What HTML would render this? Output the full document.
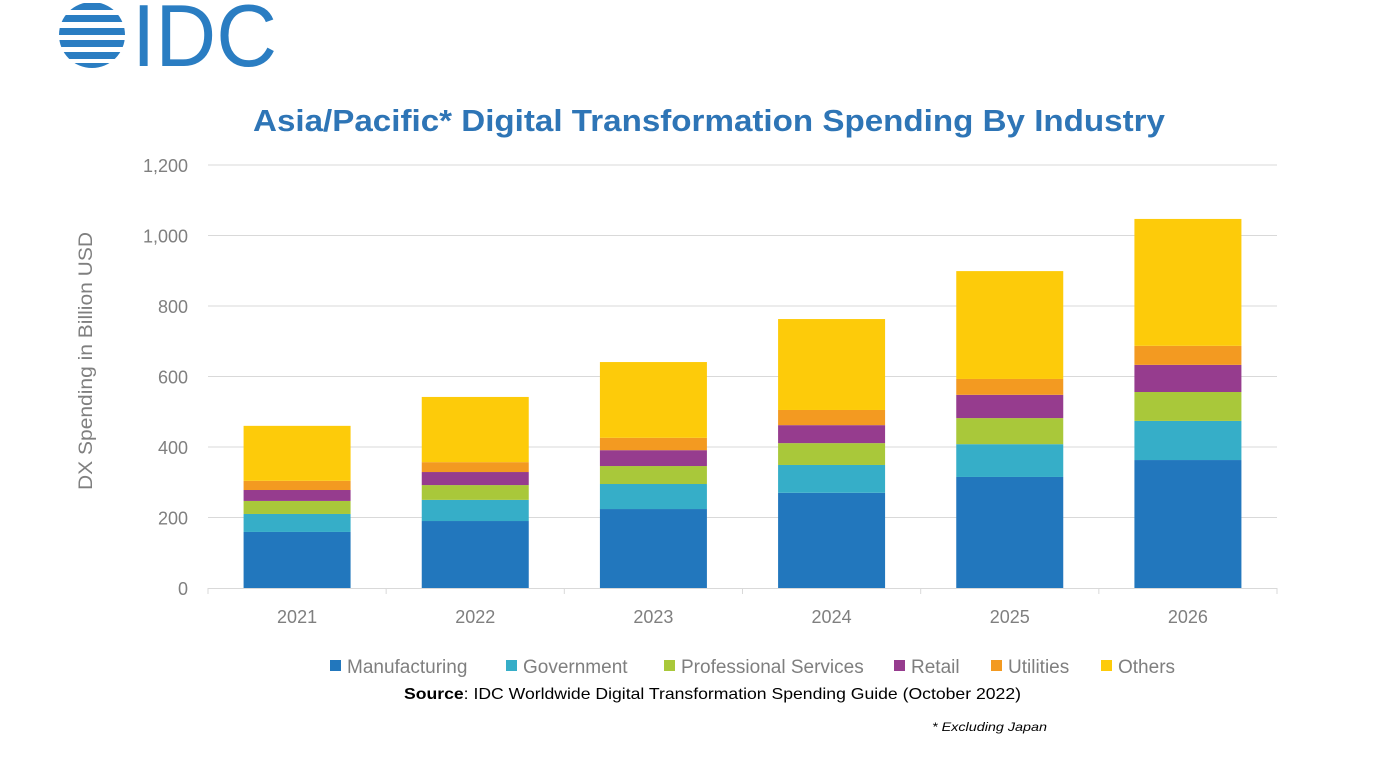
<!DOCTYPE html>
<html><head><meta charset="utf-8"><style>
html,body{margin:0;padding:0;background:#fff;width:1380px;height:776px;overflow:hidden;font-family:"Liberation Sans",sans-serif;}
</style></head><body>
<svg width="1380" height="776" xmlns="http://www.w3.org/2000/svg" id="chart">
<g>
  <defs><clipPath id="lc"><circle cx="92" cy="35" r="33"/></clipPath></defs>
  <g clip-path="url(#lc)" fill="#2A7DC2">
    <rect x="55" y="3" width="80" height="7"/>
    <rect x="55" y="15" width="80" height="7"/>
    <rect x="55" y="28" width="80" height="7"/>
    <rect x="55" y="40" width="80" height="7"/>
    <rect x="55" y="52" width="80" height="7"/>
    <rect x="55" y="63" width="80" height="7"/>
  </g>
  <text x="132" y="66" font-size="88" fill="#2A7DC2" font-family="Liberation Sans, sans-serif" textLength="145" lengthAdjust="spacingAndGlyphs">IDC</text>
</g>
<text x="253" y="131" font-size="31" font-weight="bold" fill="#2E75B6" textLength="912" lengthAdjust="spacingAndGlyphs">Asia/Pacific* Digital Transformation Spending By Industry</text>
<text transform="translate(92,361) rotate(-90)" text-anchor="middle" font-size="19" fill="#7f7f7f" textLength="258" lengthAdjust="spacingAndGlyphs">DX Spending in Billion USD</text>
<g id="grid"></g><g id="bars"></g><g id="axes"></g><g id="legend"></g>
<text x="404" y="699" font-size="16" fill="#000" textLength="617" lengthAdjust="spacingAndGlyphs"><tspan font-weight="bold">Source</tspan>: IDC Worldwide Digital Transformation Spending Guide (October 2022)</text>
<text x="932" y="731" font-size="12" font-style="italic" fill="#000" textLength="115" lengthAdjust="spacingAndGlyphs">* Excluding Japan</text>
</svg>
<script>
const years=["2021","2022","2023","2024","2025","2026"];
const manufacturing=[159,190,224,270,315,363];
const government=[51,60,71,79,93,111];
const professional=[37,42,51,62,74,82];
const retail=[31,37,45,51,66,77];
const utilities=[26,28,35,43,45,54];
const others=[156,185,215,258,306,360];
const yTicks=[0,200,400,600,800,1000,1200];
const yTickLabels=["0","200","400","600","800","1,000","1,200"];
const seriesNames=["Manufacturing","Government","Professional Services","Retail","Utilities","Others"];
const NS="http://www.w3.org/2000/svg";
const colors=["#2277BD","#36AEC8","#A9C83A","#963C8E","#F39A21","#FDCB0A"];
const series=[manufacturing,government,professional,retail,utilities,others];
const x0=208,x1=1277,y0=588,yTop=165,yMax=1200;
const band=(x1-x0)/years.length,bw=107;
const Y=v=>y0-(v/yMax)*(y0-yTop);
const X=i=>x0+band*i+band/2;
function mk(t,a,p){const e=document.createElementNS(NS,t);for(const k in a)e.setAttribute(k,a[k]);p.appendChild(e);return e;}
const g=document.getElementById('grid'),b=document.getElementById('bars'),ax=document.getElementById('axes'),lg=document.getElementById('legend');
yTicks.forEach((t,i)=>{
  if(t>0){const l=mk('line',{x1:x0,x2:x1,y1:Y(t),y2:Y(t),stroke:'#d9d9d9','stroke-width':1},g);
  
  }
  const tx=mk('text',{x:188,y:Y(t)+7,'text-anchor':'end','font-size':18,fill:'#7f7f7f'},ax);tx.textContent=yTickLabels[i];
  
  
});
const base=mk('line',{x1:x0,x2:x1,y1:y0+0.5,y2:y0+0.5,stroke:'#d9d9d9'},ax);


for(let i=0;i<=years.length;i++){const tk=mk('line',{x1:x0+band*i,x2:x0+band*i,y1:y0,y2:y0+6,stroke:'#d9d9d9'},ax);

}
years.forEach((yr,i)=>{
  let cum=0;
  series.forEach((s,k)=>{
    const r=mk('rect',{x:X(i)-bw/2,y:Y(cum+s[i]),width:bw,height:Y(cum)-Y(cum+s[i]),fill:colors[k]},b);
    
    
    cum+=s[i];
  });
  const t=mk('text',{x:X(i),y:623,'text-anchor':'middle','font-size':18,fill:'#7f7f7f'},ax);t.textContent=yr;
  
  
});
const lx=[330,506,664,894,991,1101];
seriesNames.forEach((n,k)=>{
  const r=mk('rect',{x:lx[k],y:660,width:11,height:11,fill:colors[k]},lg);
  
  
  const t=mk('text',{x:lx[k]+17,y:673,'font-size':19,fill:'#7f7f7f'},lg);t.textContent=n;
  
  
});
</script>
</body></html>
